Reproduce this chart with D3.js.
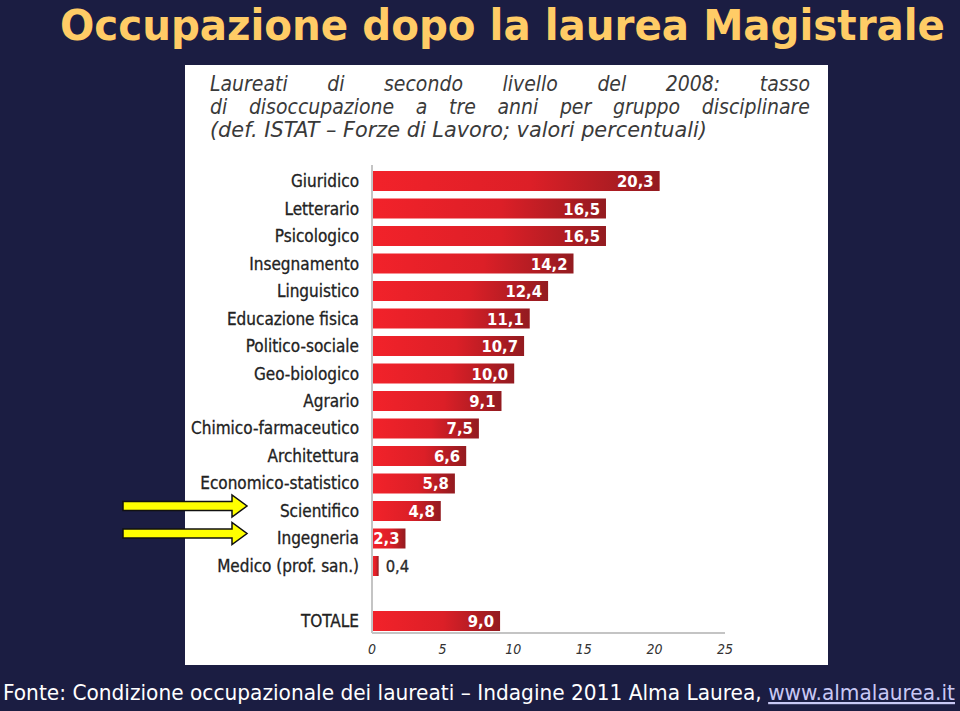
<!DOCTYPE html>
<html><head><meta charset="utf-8">
<script src="https://cdn.jsdelivr.net/npm/d3@7"></script>
<style>body{margin:0;background:#1b1d42;}svg{display:block;}</style>
</head><body>
<script>
const categories = ["Giuridico","Letterario","Psicologico","Insegnamento","Linguistico","Educazione fisica","Politico-sociale","Geo-biologico","Agrario","Chimico-farmaceutico","Architettura","Economico-statistico","Scientifico","Ingegneria","Medico (prof. san.)"];
const values = [20.3,16.5,16.5,14.2,12.4,11.1,10.7,10.0,9.1,7.5,6.6,5.8,4.8,2.3,0.4];
const totalLabel = "TOTALE";
const totalValue = 9.0;
const xTicks = [0,5,10,15,20,25];
const highlighted = ["Scientifico","Ingegneria"];
const titleText = "Occupazione dopo la laurea Magistrale";
const subtitleLines = ["Laureati di secondo livello del 2008: tasso","di disoccupazione a tre anni per gruppo disciplinare","(def. ISTAT – Forze di Lavoro; valori percentuali)"];
const footerText = "Fonte: Condizione occupazionale dei laureati – Indagine 2011 Alma Laurea, ";
const footerUrl = "www.almalaurea.it";

const W = 960, H = 711;
const svg = d3.select("body").append("svg").attr("width", W).attr("height", H);
svg.append("rect").attr("width", W).attr("height", H).attr("fill", "#1b1d42");

const defs = svg.append("defs");
const grad = defs.append("linearGradient").attr("id","barGrad").attr("x1","0").attr("x2","1").attr("y1","0").attr("y2","0");
grad.append("stop").attr("offset","0").attr("stop-color","#f2222a");
grad.append("stop").attr("offset","0.55").attr("stop-color","#dc1f27");
grad.append("stop").attr("offset","1").attr("stop-color","#931b20");

const cond = "'DejaVu Sans Condensed','DejaVu Sans',sans-serif";

// title
svg.append("text").attr("x", 60).attr("y", 40)
  .attr("font-family", cond).attr("font-weight","bold")
  .attr("font-size", 43).attr("fill","#ffcc66")
  .attr("textLength", 885).attr("lengthAdjust","spacingAndGlyphs")
  .text(titleText);

// white panel
svg.append("rect").attr("x",185).attr("y",65).attr("width",643).attr("height",600).attr("fill","#ffffff");

// subtitle (justified lines 1-2)
const subG = svg.append("g").attr("font-family", cond).attr("font-style","italic").attr("font-size",21).attr("fill","#3a3a3a");
const subBase = [91, 114, 137];
const subLeft = 210, subRight = 810;
subtitleLines.forEach((line, i) => {
  if (i < 2) {
    const words = line.split(" ");
    const nodes = words.map(w => subG.append("text").attr("y", subBase[i]).text(w));
    const widths = nodes.map(n => n.node().getComputedTextLength());
    const total = d3.sum(widths);
    const gap = (subRight - subLeft - total) / (words.length - 1);
    let x = subLeft;
    nodes.forEach((n, j) => { n.attr("x", x); x += widths[j] + gap; });
  } else {
    subG.append("text").attr("x", subLeft).attr("y", subBase[i])
      .attr("textLength", 497).attr("lengthAdjust","spacingAndGlyphs").text(line);
  }
});

// scales
const domain = [...categories, "__gap", totalLabel];
const y = d3.scaleBand().domain(domain).range([167.25, 634.75]).paddingInner(0.2727).paddingOuter(0.1364);
const x = d3.scaleLinear().domain([0, 25]).range([372, 725]);

const rows = categories.map((c, i) => ({cat: c, val: values[i]})).concat([{cat: totalLabel, val: totalValue}]);

// axis lines
svg.append("line").attr("x1", x(0)).attr("x2", x(0)).attr("y1", 165).attr("y2", 633).attr("stroke","#c4c4c4").attr("stroke-width",2);
svg.append("line").attr("x1", x(0)).attr("x2", x(25)).attr("y1", 633).attr("y2", 633).attr("stroke","#c4c4c4").attr("stroke-width",2);

// bars
svg.append("g").selectAll("rect").data(rows).join("rect")
  .attr("x", x(0) + 1).attr("y", d => y(d.cat))
  .attr("width", d => x(d.val) - x(0)).attr("height", y.bandwidth())
  .attr("fill","url(#barGrad)");

const fmt = v => v.toFixed(1).replace(".", ",");

// value labels
svg.append("g").attr("font-family", cond).attr("font-size",16.5)
  .selectAll("text").data(rows).join("text")
  .attr("x", d => d.val < 1 ? x(d.val) + 8 : x(d.val) - 5)
  .attr("y", d => y(d.cat) + y.bandwidth()/2 + 6)
  .attr("text-anchor", d => d.val < 1 ? "start" : "end")
  .attr("font-weight", d => d.val < 1 ? "normal" : "bold")
  .attr("fill", d => d.val < 1 ? "#2a2a2a" : "#ffffff")
  .attr("stroke", d => d.val < 1 ? "#2a2a2a" : "none").attr("stroke-width",0.3)
  .text(d => fmt(d.val));

// category labels
svg.append("g").attr("font-family", cond).attr("font-size",17).attr("fill","#222")
  .attr("stroke","#222").attr("stroke-width",0.3)
  .selectAll("text").data(rows).join("text")
  .attr("x", 359).attr("y", d => y(d.cat) + y.bandwidth()/2 + 6)
  .attr("text-anchor","end")
  .text(d => d.cat);

// x tick labels
svg.append("g").attr("font-family", cond).attr("font-style","italic").attr("font-size",14).attr("fill","#333")
  .selectAll("text").data(xTicks).join("text")
  .attr("x", d => x(d)).attr("y", 654).attr("text-anchor","middle").text(d => d);

// arrows
const arrowG = svg.append("g");
highlighted.forEach(c => {
  const cy = y(c) + y.bandwidth()/2 - 5;
  const x0 = 123, xs = 232, xt = 247;
  const pts = [[x0, cy-4.5],[xs, cy-4.5],[xs, cy-11],[xt, cy],[xs, cy+11],[xs, cy+4.5],[x0, cy+4.5]];
  arrowG.append("path").attr("d", d3.line()(pts) + "Z")
    .attr("fill","#ffff00").attr("stroke","#111").attr("stroke-width",1.5).attr("stroke-linejoin","miter");
});

// footer
const foot = svg.append("text").attr("x", 3).attr("y", 700)
  .attr("font-family", cond).attr("font-size",22).attr("fill","#ffffff")
  .attr("textLength", 952).attr("lengthAdjust","spacingAndGlyphs");
foot.append("tspan").text(footerText);
foot.append("tspan").attr("fill","#c8c8f4").attr("text-decoration","underline").text(footerUrl);
</script>
</body></html>
